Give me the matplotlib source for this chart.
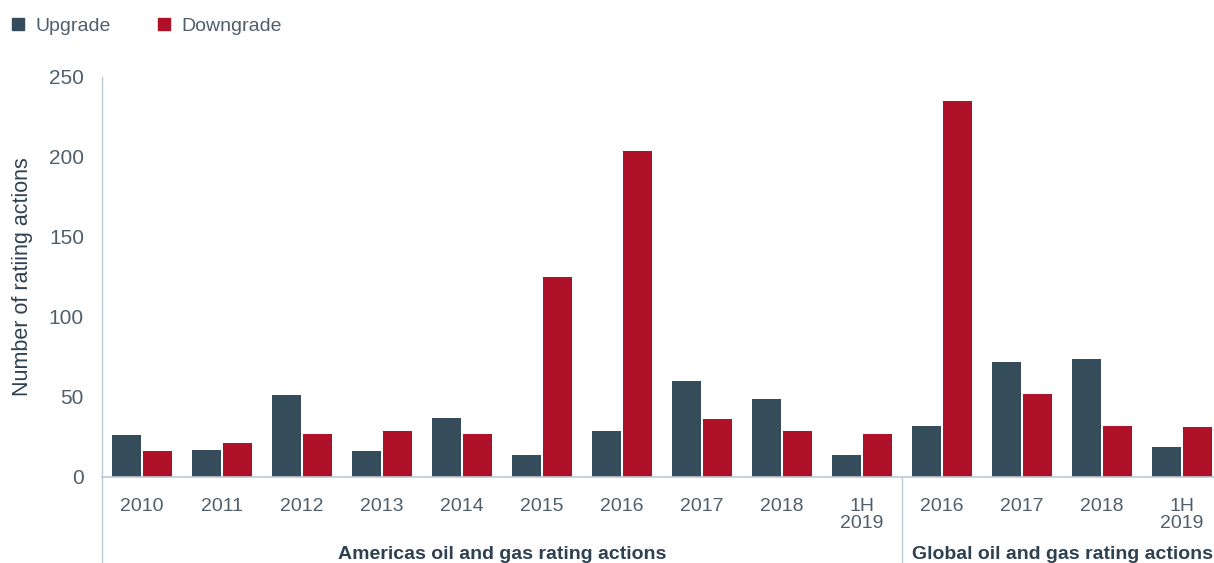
import matplotlib
matplotlib.use("Agg")
import matplotlib.pyplot as plt
from matplotlib.lines import Line2D
import numpy as np

plt.rcParams['font.family'] = ['Liberation Sans', 'DejaVu Sans']

# data
categories = ['2010', '2011', '2012', '2013', '2014', '2015', '2016', '2017', '2018', '1H\n2019',
              '2016', '2017', '2018', '1H\n2019']
upgrade = [26, 17, 51, 16, 37, 14, 29, 60, 49, 14, 32, 72, 74, 19]
downgrade = [16, 21, 27, 29, 27, 125, 204, 36, 29, 27, 235, 52, 32, 31]
groups = ['Americas oil and gas rating actions', 'Global oil and gas rating actions']
group_sizes = [10, 4]

c_up = '#354C5B'
c_down = '#AF1228'
c_text = '#4F5F6B'
c_dark = '#2F4150'
c_axis = '#BCCAD5'

fig = plt.figure(figsize=(12.14, 5.63), dpi=100)
ax = fig.add_axes([0.084, 0.1528, 0.9226, 0.7105])

x = np.arange(len(categories))
w = 0.36
ax.bar(x - 0.19, upgrade, w, color=c_up, label='Upgrade')
ax.bar(x + 0.19, downgrade, w, color=c_down, label='Downgrade')

ax.set_xlim(-0.5, 13.5)
ax.set_ylim(0, 250)
ax.set_yticks([0, 50, 100, 150, 200, 250])
ax.set_xticks(x)
ax.set_xticklabels(categories, linespacing=1.05)
ax.tick_params(axis='both', length=0, labelsize=14, labelcolor=c_text)
ax.tick_params(axis='x', pad=15)
ax.tick_params(axis='y', labelsize=15, pad=13)

for s in ['top', 'right']:
    ax.spines[s].set_visible(False)
ax.spines['left'].set_color(c_axis)
ax.spines['bottom'].set_color(c_axis)
ax.spines['left'].set_linewidth(1)
ax.spines['bottom'].set_linewidth(1.2)

# y axis line continues below the plot, plus the separator between groups
tr = ax.get_xaxis_transform()
ax.plot([-0.5, -0.5], [0, -0.22], transform=tr, color=c_axis, lw=1, clip_on=False)
start = 0
for i, (g, n) in enumerate(zip(groups, group_sizes)):
    center = start + (n - 1) / 2
    ax.text(center, -0.193, g, transform=tr, ha='center', va='center',
            fontsize=14, color=c_dark, fontweight='semibold')
    if i > 0:
        ax.plot([start - 0.5, start - 0.5], [0, -0.22], transform=tr,
                color=c_axis, lw=1, clip_on=False)
    start += n

ax.set_ylabel('Number of ratiing actions', fontsize=15.5, color=c_dark)
ax.yaxis.set_label_coords(-0.062, 0.5)

handles = [Line2D([], [], marker='s', ls='', color=c_up, markersize=9),
           Line2D([], [], marker='s', ls='', color=c_down, markersize=9)]
fig.legend(handles, ['Upgrade', 'Downgrade'], loc='upper left',
           bbox_to_anchor=(-0.009, 1.0), ncol=2, frameon=False, fontsize=14,
           labelcolor=c_text, handletextpad=0.3, columnspacing=2.1, handlelength=1.2)

plt.savefig('out.png', dpi=100, facecolor='white')
